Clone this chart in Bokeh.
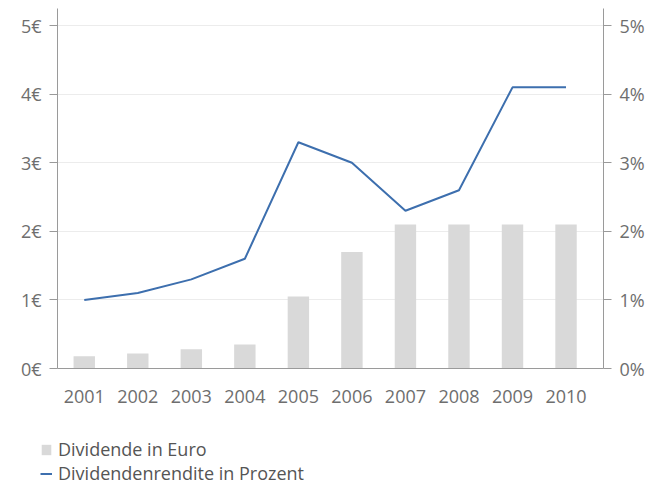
from bokeh.plotting import figure
from bokeh.models import (Range1d, LinearAxis, FixedTicker, PrintfTickFormatter,
                          Legend, LegendItem, ColumnDataSource)
from bokeh.embed import file_html
from bokeh.resources import INLINE

years = [2001, 2002, 2003, 2004, 2005, 2006, 2007, 2008, 2009, 2010]
dividend_eur = [0.18, 0.22, 0.28, 0.35, 1.05, 1.70, 2.10, 2.10, 2.10, 2.10]
yield_pct = [1.0, 1.1, 1.3, 1.6, 3.3, 3.0, 2.3, 2.6, 4.1, 4.1]
y_ticks = [0, 1, 2, 3, 4, 5]
legend_labels = ["Dividende in Euro", "Dividendenrendite in Prozent"]

FONT = "Open Sans"
FS = "18px"
TXT = "#6e6e6e"
AX = "#9a9a9a"
BAR_COLOR = "#d9d9d9"
LINE_COLOR = "#3d6fae"

src = ColumnDataSource(dict(year=years, div=dividend_eur, yld=yield_pct))

p = figure(width=650, height=408, output_backend="svg", toolbar_location=None,
           x_range=Range1d(2000.5, 2010.7), y_range=Range1d(0, 5.25),
           min_border_left=57, min_border_right=47, min_border_top=8,
           min_border_bottom=40, x_axis_location="below", y_axis_location="left")
p.outline_line_color = None
p.background_fill_color = "white"
p.border_fill_color = "white"

p.extra_y_ranges = {"pct": Range1d(0, 5.25)}

bars = p.vbar(x="year", top="div", width=0.4, source=src, color=BAR_COLOR, line_color=None)
line = p.line(x="year", y="yld", source=src, line_color=LINE_COLOR, line_width=2, y_range_name="pct")

# x axis
xa = p.xaxis[0]
xa.ticker = FixedTicker(ticks=years)
xa.major_tick_line_color = None
xa.minor_tick_line_color = None
xa.axis_line_color = AX
xa.major_label_text_font = FONT
xa.major_label_text_font_size = FS
xa.major_label_text_color = TXT
xa.major_label_standoff = 15

# left axis
ya = p.yaxis[0]
ya.ticker = FixedTicker(ticks=y_ticks)
ya.formatter = PrintfTickFormatter(format="%d€")
ya.major_tick_out = 8
ya.major_tick_in = 0
ya.minor_tick_line_color = None
ya.axis_line_color = AX
ya.major_tick_line_color = AX
ya.major_label_text_font = FONT
ya.major_label_text_font_size = FS
ya.major_label_text_color = TXT
ya.major_label_standoff = 8

# right axis
ra = LinearAxis(y_range_name="pct", ticker=FixedTicker(ticks=y_ticks),
                formatter=PrintfTickFormatter(format="%d%%"))
ra.major_tick_out = 8
ra.major_tick_in = 0
ra.minor_tick_line_color = None
ra.axis_line_color = AX
ra.major_tick_line_color = AX
ra.major_label_text_font = FONT
ra.major_label_text_font_size = FS
ra.major_label_text_color = TXT
ra.major_label_standoff = 8
p.add_layout(ra, "right")

p.xgrid.grid_line_color = None
p.ygrid.grid_line_color = "#ececec"
p.ygrid.ticker = FixedTicker(ticks=y_ticks)

# legend strip: same glyph styles on the same data, kept out of its (empty) view
lg = figure(width=650, height=78, output_backend="svg", toolbar_location=None,
            x_range=Range1d(0, 1), y_range=Range1d(-10, -9),
            x_axis_location=None, y_axis_location=None,
            min_border_left=0, min_border_right=0, min_border_top=0, min_border_bottom=0)
lg.grid.visible = False
lg.outline_line_color = None
lg_bar = lg.vbar(x="year", top="div", width=0.4, source=src, color=BAR_COLOR, line_color=None)
lg_line = lg.line(x="year", y="yld", source=src, line_color=LINE_COLOR, line_width=2)

legend = Legend(items=[LegendItem(label=legend_labels[0], renderers=[lg_bar]),
                       LegendItem(label=legend_labels[1], renderers=[lg_line])],
                location=(40, 1), orientation="vertical",
                border_line_color=None, background_fill_alpha=0,
                padding=0, margin=0, spacing=0,
                glyph_width=12, glyph_height=13, label_height=23,
                label_standoff=6,
                label_text_font=FONT, label_text_font_size="18px",
                label_text_color="#555555")
lg.add_layout(legend, "center")

open("out.html", "w").write(file_html([p, lg], INLINE))
